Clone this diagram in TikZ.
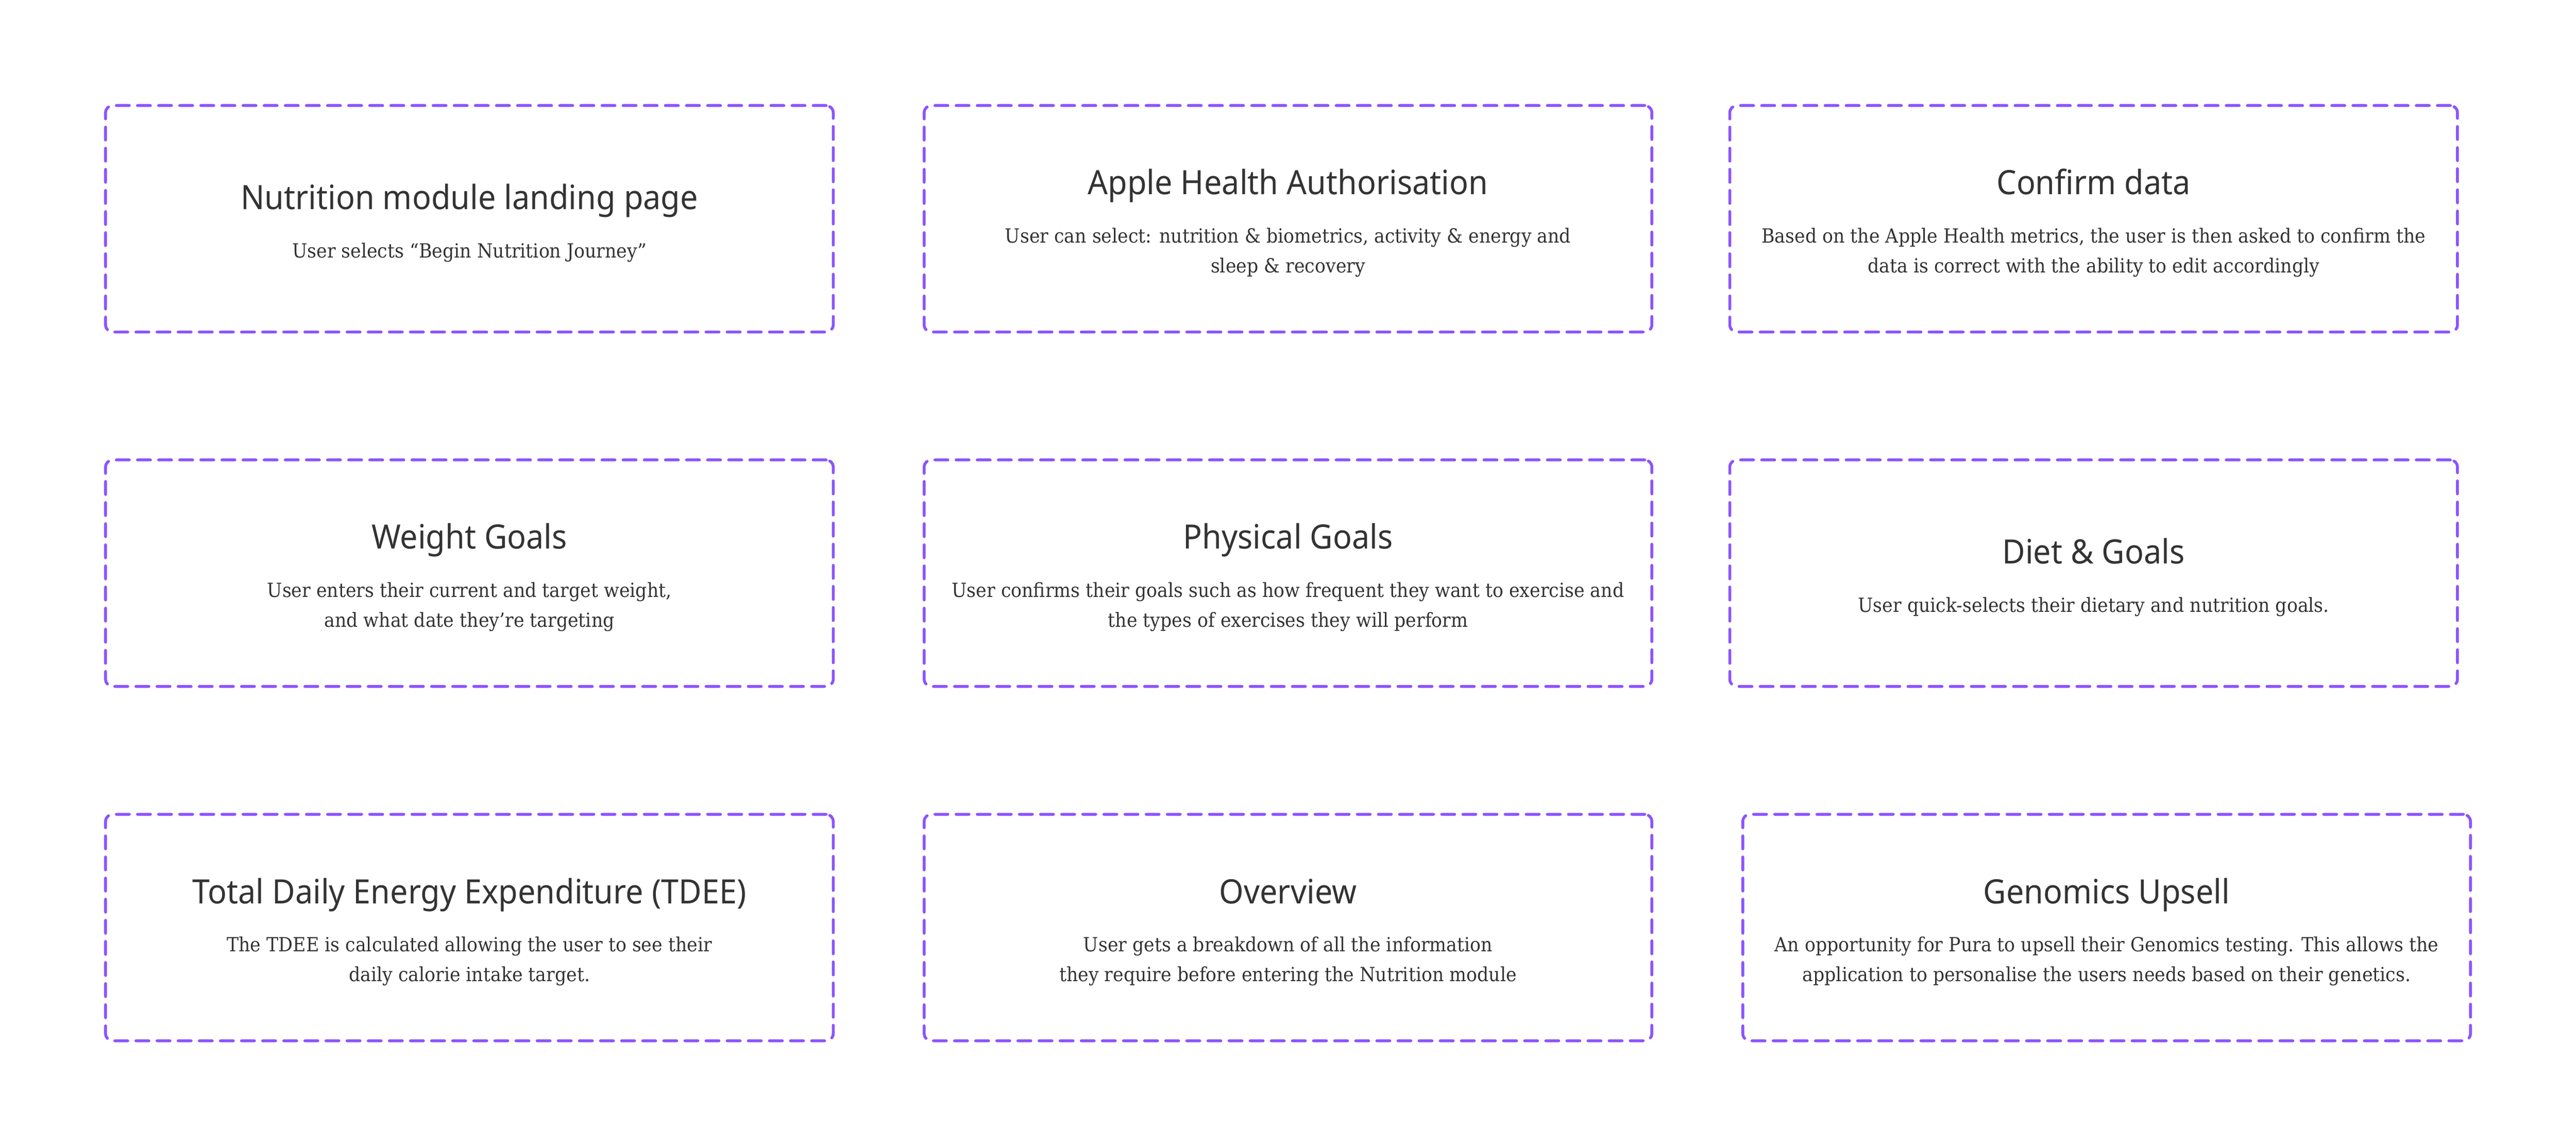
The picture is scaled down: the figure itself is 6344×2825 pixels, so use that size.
\documentclass[tikz,border=0pt]{standalone}
\usepackage{fontspec}
\newfontfamily\titlefont[FakeStretch=0.94]{Noto Sans}
\newfontfamily\bodyfont[FakeStretch=0.92]{DejaVu Serif}
\definecolor{dashpurple}{HTML}{8B54FF}
\definecolor{ink}{HTML}{333333}
% two-line card: name, cx, cy, title, line1, line2
\newcommand\cardtwo[6]{%
  \node[card] (#1) at (#2,#3) {};
  \node[ttl] (#1t) at (#2,#3-59.5) {#4};
  \node[bdy] (#1a) at (#2,#3+59.5) {#5};
  \node[bdy] (#1b) at (#2,#3+132.5) {#6};
}
% one-line card: name, cx, cy, title, line1
\newcommand\cardone[5]{%
  \node[card] (#1) at (#2,#3) {};
  \node[ttl] (#1t) at (#2,#3-23) {#4};
  \node[bdy] (#1a) at (#2,#3+96) {#5};
}
\begin{document}
\begin{tikzpicture}[x=0.2pt,y=-0.2pt,
  card/.style={draw=dashpurple, line width=1.4pt, dash pattern=on 6.4pt off 4pt,
    line cap=round, rounded corners=3.5pt, minimum width=358.4pt,
    minimum height=111.6pt, inner sep=0pt},
  ttl/.style={font=\titlefont\fontsize{16.5}{20}\selectfont, text=ink, anchor=base, inner sep=0pt},
  bdy/.style={font=\bodyfont\fontsize{9.6}{12}\selectfont, text=ink, anchor=base, inner sep=0pt}]
\fill[white] (0,0) rectangle (6344,2825);
\useasboundingbox (0,0) rectangle (6344,2825);

\cardone{c1}{1156}{539}{Nutrition module landing page}{User selects “Begin Nutrition Journey”}
\cardtwo{c2}{3172}{539}{Apple Health Authorisation}{User can select: nutrition \& biometrics, activity \& energy and}{sleep \& recovery}
\cardtwo{c3}{5156}{539}{Confirm data}{Based on the Apple Health metrics, the user is then asked to confirm the}{data is correct with the ability to edit accordingly}

\cardtwo{c4}{1156}{1412}{Weight Goals}{User enters their current and target weight,}{and what date they’re targeting}
\cardtwo{c5}{3172}{1412}{Physical Goals}{User confirms their goals such as how frequent they want to exercise and}{the types of exercises they will perform}
\cardone{c6}{5156}{1412}{Diet \& Goals}{User quick-selects their dietary and nutrition goals.}

\cardtwo{c7}{1156}{2285}{Total Daily Energy Expenditure (TDEE)}{The TDEE is calculated allowing the user to see their}{daily calorie intake target.}
\cardtwo{c8}{3172}{2285}{Overview}{User gets a breakdown of all the information}{they require before entering the Nutrition module}
\cardtwo{c9}{5188}{2285}{Genomics Upsell}{An opportunity for Pura to upsell their Genomics testing. This allows the}{application to personalise the users needs based on their genetics.}
\end{tikzpicture}
\end{document}
